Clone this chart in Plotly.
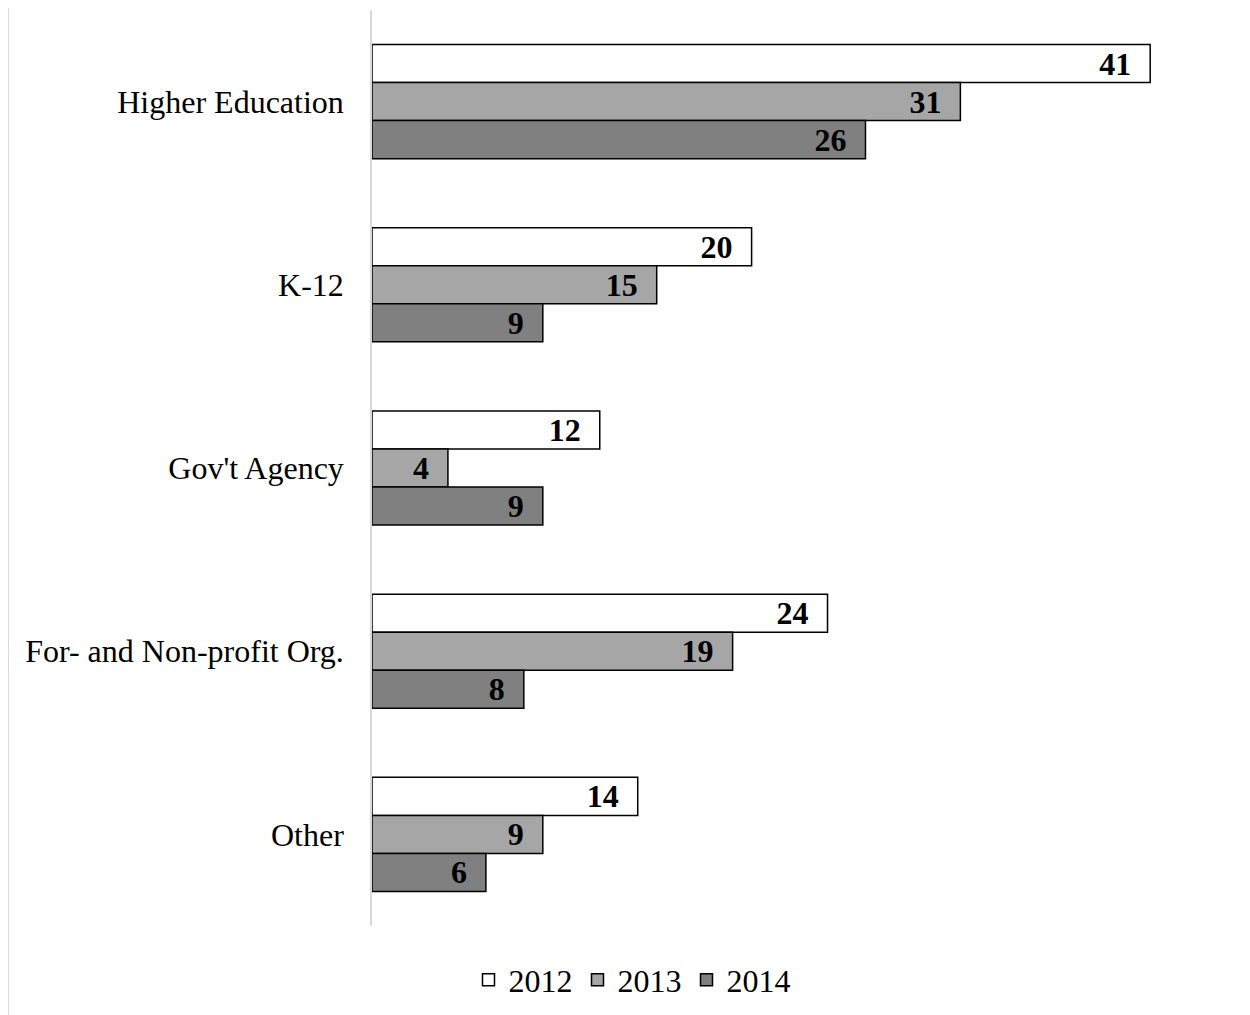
import plotly.graph_objects as go

categories = ["Higher Education", "K-12", "Gov't Agency", "For- and Non-profit Org.", "Other"]
years = ["2012", "2013", "2014"]
values_2012 = [41, 20, 12, 24, 14]
values_2013 = [31, 15, 4, 19, 9]
values_2014 = [26, 9, 9, 8, 6]
colors = ["#ffffff", "#a6a6a6", "#808080"]

series = [values_2012, values_2013, values_2014]

W, H = 1242, 1007
ml, mr, mt, mb = 364, 20, 2, 89
pw = W - ml - mr
ph = H - mt - mb

fig = go.Figure()
for name, vals, col in zip(years, series, colors):
    fig.add_trace(go.Bar(
        name=name,
        y=categories,
        x=vals,
        orientation="h",
        marker=dict(color=col, line=dict(color="#000000", width=1.5)),
        text=[f"<b>{v}</b>\u2002" for v in vals],
        textposition="inside",
        insidetextanchor="end",
        textangle=0,
        constraintext="none",
        textfont=dict(family="Liberation Serif", size=32, color="#000000"),
    ))

fig.update_layout(
    width=W, height=H,
    margin=dict(l=ml, r=mr, t=mt, b=mb),
    paper_bgcolor="#ffffff",
    plot_bgcolor="#ffffff",
    barmode="group",
    bargap=0.377,
    bargroupgap=0,
    uniformtext=dict(mode=False),
    font=dict(family="Liberation Serif", size=32, color="#000000"),
    xaxis=dict(range=[0, pw / 18.98], showgrid=False, zeroline=False,
               showticklabels=False, showline=False, ticks=""),
    yaxis=dict(autorange="reversed", showgrid=False, zeroline=False,
               showline=True, linecolor="#d9d9d9", linewidth=1.5, ticks="",
               ticklabelstandoff=20,
               tickfont=dict(family="Liberation Serif", size=32, color="#000000")),
    legend=dict(orientation="h", x=(624 - ml) / pw, xanchor="center",
                y=-(972 - (mt + ph)) / ph, yanchor="middle",
                font=dict(family="Liberation Serif", size=32, color="#000000"),
                itemwidth=30, traceorder="normal"),
    shapes=[dict(type="line", xref="paper", yref="paper",
                 x0=(0 - ml) / pw, x1=(0 - ml) / pw, y0=-0.2, y1=1.2,
                 line=dict(color="#d9d9d9", width=2))],
)

fig.write_html("out.html")
